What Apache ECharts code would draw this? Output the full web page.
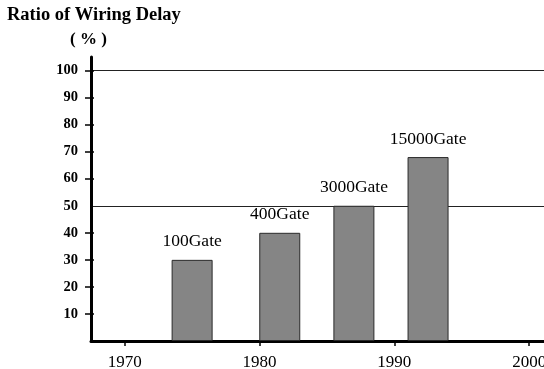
<!DOCTYPE html>
<html>
<head>
<meta charset="utf-8">
<script src="https://cdn.jsdelivr.net/npm/echarts@6/dist/echarts.min.js"></script>
<style>
  html, body { margin: 0; padding: 0; background: #fff; }
  #chart { width: 544px; height: 369px; }
</style>
</head>
<body>
<div id="chart"></div>
<script>
// Generations of gate arrays: year introduced, share of delay due to wiring
const years = [1975, 1981.5, 1987, 1992.5];
const ratios = [30, 40, 50, 68];
const gateLabels = ['100Gate', '400Gate', '3000Gate', '15000Gate'];

// Axis ticks
const yearTicks = [1970, 1980, 1990, 2000];
const ratioTicks = [10, 20, 30, 40, 50, 60, 70, 80, 90, 100];
const ratioTickMarks = [10, 20, 30, 40, 60, 70, 80, 90, 100];
const guideStep = 50; // horizontal guide lines at 50 % and 100 %

const SERIF = '"Liberation Serif", "Times New Roman", serif';
const Y_MAX = 105;

const chart = echarts.init(document.getElementById('chart'), null, { renderer: 'canvas' });

chart.setOption({
  animation: false,
  backgroundColor: '#ffffff',
  title: [
    {
      text: 'Ratio of Wiring Delay',
      left: 7, top: 6, padding: 0,
      textStyle: { fontFamily: SERIF, fontWeight: 'bold', fontSize: 18.5, color: '#000' }
    },
    {
      text: '( % )',
      left: 70, top: 31, padding: 0,
      textStyle: { fontFamily: SERIF, fontWeight: 'bold', fontSize: 17, color: '#000' }
    }
  ],
  grid: {
    left: 91, right: 0, top: 57, bottom: 28,
    containLabel: false,
    outerBoundsMode: 'none'
  },
  xAxis: {
    type: 'value',
    min: 1967.5,
    max: 2001.1,
    splitLine: { show: false },
    axisLine: { show: true, lineStyle: { color: '#000', width: 3 } },
    axisTick: { show: true, customValues: yearTicks, length: 5, lineStyle: { color: '#000', width: 1.5 } },
    axisLabel: {
      customValues: yearTicks,
      formatter: (v) => String(Math.round(v)),
      margin: 13,
      fontFamily: SERIF, fontSize: 17, color: '#000'
    }
  },
  yAxis: [
    {
      type: 'value',
      position: 'left',
      min: 0,
      max: Y_MAX,
      z: 5,
      splitLine: { show: false },
      axisLine: { show: true, onZero: false, lineStyle: { color: '#000', width: 3 } },
      axisTick: { show: true, customValues: ratioTickMarks, length: 6, lineStyle: { color: '#000', width: 1.5 } },
      axisLabel: {
        customValues: ratioTicks,
        margin: 13,
        fontFamily: SERIF, fontWeight: 'bold', fontSize: 14.5, color: '#000'
      }
    },
    {
      // short inner half of the cross-shaped ticks
      type: 'value',
      position: 'left',
      offset: 0,
      min: 0,
      max: Y_MAX,
      z: 5,
      splitLine: { show: false },
      axisLine: { show: false },
      axisTick: { show: true, inside: true, customValues: ratioTickMarks, length: 3, lineStyle: { color: '#000', width: 1.5 } },
      axisLabel: { show: false }
    },
    {
      // guide lines behind the bars
      type: 'value',
      position: 'left',
      offset: 0,
      min: 0,
      max: Y_MAX,
      interval: guideStep,
      z: 0,
      axisLine: { show: false },
      axisTick: { show: false },
      axisLabel: { show: false },
      splitLine: {
        show: true,
        showMinLine: false,
        showMaxLine: false,
        lineStyle: { color: '#222', width: 1, type: 'solid' }
      }
    }
  ],
  series: [
    {
      type: 'bar',
      yAxisIndex: 0,
      barWidth: 41,
      data: years.map((y, i) => [y, ratios[i]]),
      itemStyle: { color: '#858585', borderColor: '#2a2a2a', borderWidth: 1 },
      label: {
        show: true,
        position: 'top',
        distance: 9,
        formatter: (p) => gateLabels[p.dataIndex],
        fontFamily: SERIF, fontSize: 17.5, color: '#000'
      },
      z: 3
    }
  ]
});
</script>
</body>
</html>
